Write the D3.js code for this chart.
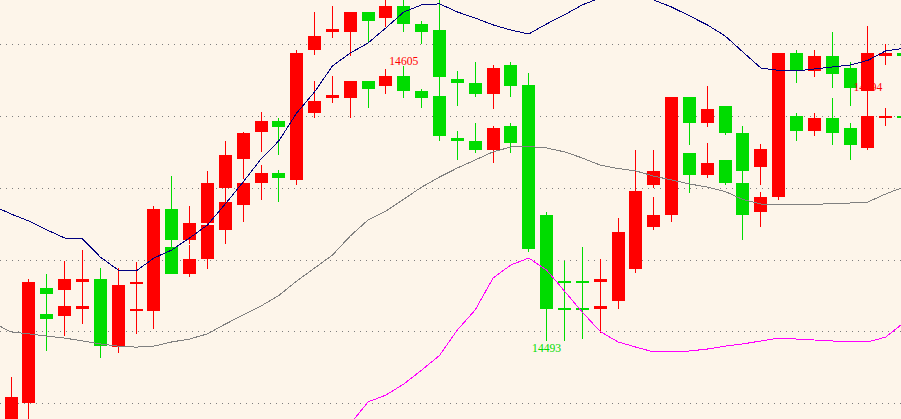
<!DOCTYPE html>
<html><head><meta charset="utf-8">
<script src="https://cdn.jsdelivr.net/npm/d3@7/dist/d3.min.js"></script>
<style>html,body{margin:0;padding:0;background:#fdf5ea;overflow:hidden}svg{display:block}</style>
</head><body><svg id="chart" width="901" height="419"></svg>
<script>
// ---- data (prices) ----
const barIndex = d3.range(0, 51);
const openP  = [14457.0,14467.4,14503.6,14502.8,14505.8,14517.9,14490.0,14504.9,14505.0,14531.0,
                14520.1,14526.1,14538.0,14548.2,14557.3,14561.3,14558.4,14585.9,14592.1,14591.9,
                14598.9,14596.8,14600.9,14594.8,14592.8,14575.6,14574.4,14570.7,14580.5,14597.3,
                14544.1,14506.0,14506.0,14505.8,14509.1,14522.1,14539.2,14544.1,14569.4,14560.5,
                14566.6,14557.2,14545.3,14551.5,14584.6,14578.4,14583.8,14579.7,14571.5,14583.8,14584.6];
const highP  = [14477.9,14517.9,14508.5,14512.8,14516.9,14522.4,14522.4,14512.7,14547.8,14542.3,
                14532.0,14544.1,14554.4,14557.5,14564.4,14562.3,14611.6,14598.9,14600.9,14598.9,
                14598.9,14603.8,14605.0,14595.6,14604.2,14578.6,14581.7,14580.5,14581.7,14602.2,
                14545.3,14512.8,14517.9,14513.8,14543.0,14570.7,14551.3,14592.3,14569.4,14573.5,
                14566.6,14559.6,14553.4,14610.3,14585.8,14585.8,14591.9,14581.7,14594.0,14587.8,14587.8];
const lowP   = [14455.4,14458.7,14488.5,14494.6,14499.5,14485.8,14487.8,14495.5,14497.5,14519.8,
                14518.9,14522.1,14532.4,14541.4,14550.4,14549.5,14556.4,14583.9,14590.0,14583.8,
                14588.0,14593.6,14591.9,14587.8,14574.5,14566.6,14569.4,14565.4,14569.4,14529.0,
                14492.6,14492.7,14493.5,14496.0,14505.8,14520.3,14538.0,14541.2,14553.1,14559.2,
                14556.4,14533.9,14539.2,14550.2,14574.4,14576.4,14572.7,14566.6,14570.7,14580.5,14580.5];
const closeP = [14469.7,14516.7,14501.6,14506.9,14506.9,14490.5,14515.5,14505.8,14546.6,14520.1,
                14526.1,14540.0,14549.4,14557.2,14561.3,14559.2,14610.3,14590.7,14593.0,14598.9,
                14595.6,14600.9,14594.8,14591.9,14576.4,14574.4,14570.7,14579.7,14573.5,14530.2,
                14505.7,14505.3,14505.3,14506.9,14537.2,14553.9,14544.1,14592.3,14560.5,14565.4,
                14557.2,14544.1,14551.5,14610.3,14578.4,14583.8,14577.6,14572.7,14584.6,14584.6,14583.8];
// 1 = candle also shows a second (stretched) copy higher up
const doubled = [0,0,1,1,1,0,0,1,0,1, 1,1,1,1,1,1,0,1,1,1, 1,1,1,1,1,1,1,1,1,0,
                 0,1,1,1,0,0,1,0,1,1, 1,1,1,0,1,1,1,1,1,1, 1];

// Bollinger bands, bars -1 .. 50
const bandIndex = d3.range(-1, 51);
const upperBand = [14547.8,14544.5,14541.6,14538.0,14534.7,14534.3,14526.9,14521.6,14521.2,14526.5,
                   14529.8,14534.7,14540.0,14548.6,14557.6,14567.0,14574.4,14585.8,14594.4,14605.0,
                   14610.3,14614.4,14620.6,14627.1,14630.0,14630.4,14627.1,14624.6,14621.8,14619.7,
                   14618.1,14622.2,14625.9,14630.0,14632.8,14634.0,14634.0,14632.0,14629.1,14625.5,
                   14621.8,14617.3,14610.7,14604.2,14603.2,14603.0,14603.8,14604.6,14605.4,14607.3,
                   14611.2,14612.2];
const middleBand = [14500.0,14496.3,14495.5,14494.6,14493.8,14492.6,14491.4,14490.5,14490.1,14490.5,
                    14492.2,14493.4,14495.5,14499.5,14503.2,14506.9,14511.2,14517.1,14522.4,14527.7,
                    14535.5,14542.1,14545.7,14550.6,14555.5,14559.6,14563.3,14566.6,14569.9,14571.9,
                    14572.1,14571.5,14569.9,14567.4,14564.5,14563.1,14562.1,14560.0,14558.4,14556.8,
                    14555.5,14553.7,14550.4,14548.6,14548.2,14548.2,14548.4,14548.8,14549.0,14549.4,
                    14552.7,14555.5];
const lowerBand = [14450.5,14448.0,14449.3,14451.3,14452.9,14450.9,14455.8,14457.0,14457.0,14454.6,
                   14454.6,14452.1,14450.9,14450.5,14448.8,14446.8,14448.0,14448.4,14450.5,14450.5,
                   14458.7,14467.7,14470.5,14475.0,14480.7,14486.7,14497.1,14505.3,14518.3,14523.7,
                   14526.5,14521.6,14513.0,14504.4,14496.5,14492.2,14490.1,14488.1,14488.1,14488.5,
                   14489.3,14490.5,14491.4,14492.6,14493.8,14493.4,14493.0,14492.6,14492.2,14492.2,
                   14494.2,14500.0];

const gridLevels = [14614.0,14584.6,14555.1,14525.9,14496.6,14467.2];

const labelBars  = [22, 30, 48];
const labelTexts = ["14605", "14493", "14594"];
const labelKinds = ["high", "low", "high"];

// ---- drawing ----
const W = 901, H = 419;
const bg = "#fdf5ea", up = "#ff0000", down = "#00dc00";
const svg = d3.select("#chart");
svg.append("rect").attr("width", W).attr("height", H).attr("fill", bg);

const x = d3.scaleLinear().domain([0, 49]).range([11.1, 885.75]);
const y = d3.scaleLinear().domain([14493, 14605]).range([340, 66]);
const yG = d3.scaleLinear().domain(y.domain()).range(y.range().map(v => (v - 70.9) / 0.844));

// grid
svg.append("g").selectAll("line").data(gridLevels).join("line")
  .attr("x1", 0).attr("x2", W)
  .attr("y1", d => Math.round(y(d)) + 0.5).attr("y2", d => Math.round(y(d)) + 0.5)
  .attr("stroke", "#7f7f7f").attr("stroke-width", 1)
  .attr("stroke-dasharray", "1,5").attr("shape-rendering", "crispEdges");

function drawCandles(g, idx, ys) {
  const sel = g.selectAll("g.c").data(idx).join("g").attr("class", "c");
  sel.each(function (k) {
    const o = openP[k], c = closeP[k];
    const col = c >= o ? up : down;
    const left = Math.round(x(k) - 6.5);
    const hi = Math.round(ys(highP[k])), lo = Math.round(ys(lowP[k]));
    const top = Math.round(ys(Math.max(o, c))), bot = Math.round(ys(Math.min(o, c)));
    const s = d3.select(this);
    s.append("rect").attr("x", left + 6).attr("width", 1)
      .attr("y", hi).attr("height", Math.max(1, lo - hi)).attr("fill", col);
    s.append("rect").attr("x", left).attr("width", 13)
      .attr("y", top).attr("height", Math.max(2, bot - top)).attr("fill", col);
  });
}
const candles = svg.append("g").attr("shape-rendering", "crispEdges");
drawCandles(candles.append("g"), barIndex.filter(k => doubled[k]), yG);
drawCandles(candles.append("g"), barIndex, y);

// bands
const bands = [[upperBand, "#000080"], [middleBand, "#808080"], [lowerBand, "#ff00ff"]];
bands.forEach(([vals, col]) => {
  svg.append("path")
    .datum(bandIndex.map((k, i) => [k, vals[i]]))
    .attr("fill", "none").attr("stroke", col).attr("stroke-width", 1)
    .attr("shape-rendering", "crispEdges")
    .attr("d", d3.line().x(d => x(d[0])).y(d => y(d[1])));
});

// price labels
svg.append("g").selectAll("text").data(labelBars).join("text")
  .attr("x", k => x(k))
  .attr("y", (k, i) => labelKinds[i] === "high" ? y(highP[k]) - 1.5 : y(lowP[k]) + 11.5)
  .attr("text-anchor", "middle")
  .attr("font-family", "'Liberation Serif', 'DejaVu Serif', serif")
  .attr("font-size", 12.5)
  .attr("textLength", 29).attr("lengthAdjust", "spacingAndGlyphs")
  .attr("fill", (k, i) => labelKinds[i] === "high" ? up : down)
  .text((k, i) => labelTexts[i]);
</script></body></html>
